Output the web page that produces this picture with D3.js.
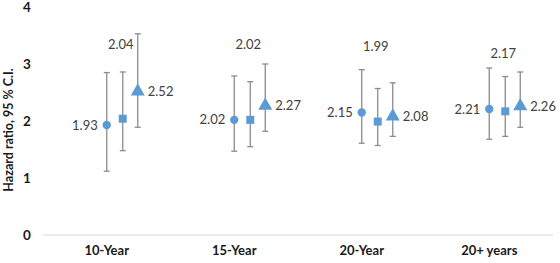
<!DOCTYPE html>
<html lang="en">
<head>
    <meta charset="UTF-8">
    <title>Hazard ratio</title>
    <script src="https://d3js.org/d3.v7.min.js"></script>
    <style>
        body { margin: 0; background: #fff; }
        text { font-family: Lato, "Open Sans", sans-serif; }
    </style>
</head>
<body>
    <div id="chart"></div>

    <script>
        // DATA
        const categories = ["10-Year", "15-Year", "20-Year", "20+ years"];
        const circleValues = [1.93, 2.02, 2.15, 2.21];
        const circleLow = [1.12, 1.47, 1.61, 1.68];
        const circleHigh = [2.85, 2.79, 2.90, 2.93];
        const squareValues = [2.04, 2.02, 1.99, 2.17];
        const squareLow = [1.48, 1.55, 1.57, 1.73];
        const squareHigh = [2.86, 2.69, 2.57, 2.78];
        const triangleValues = [2.52, 2.27, 2.08, 2.26];
        const triangleLow = [1.89, 1.82, 1.73, 1.89];
        const triangleHigh = [3.53, 3.00, 2.67, 2.86];
        const yTicks = [0, 1, 2, 3, 4];
        const yLabel = "Hazard ratio, 95 % C.I.";

        const width = 560, height = 263;
        const margin = { top: 7, right: 7, bottom: 28, left: 43 };
        const innerW = width - margin.left - margin.right;
        const innerH = height - margin.top - margin.bottom;

        const svg = d3.select("#chart").append("svg")
            .attr("width", width)
            .attr("height", height);

        const g = svg.append("g")
            .attr("transform", `translate(${margin.left},${margin.top})`);

        const x = d3.scaleBand().domain(categories).range([0, innerW]);
        const y = d3.scaleLinear().domain([0, 4]).range([innerH, 0]);

        const blue = "#5B9BD5";
        const barColor = "#8c8c8c";

        // baseline
        g.append("line")
            .attr("x1", 0).attr("x2", innerW)
            .attr("y1", y(0)).attr("y2", y(0))
            .attr("stroke", "#d9d9d9").attr("stroke-width", 1);

        // y tick labels
        g.selectAll(".ytick")
            .data(yTicks)
            .join("text")
            .attr("x", -16)
            .attr("y", d => y(d))
            .attr("dy", "0.4em")
            .attr("text-anchor", "middle")
            .attr("font-size", 13.5)
            .attr("font-weight", "bold")
            .attr("fill", "#1a1a1a")
            .text(d => d);

        // category labels
        g.selectAll(".xtick")
            .data(categories)
            .join("text")
            .attr("x", d => x(d) + x.bandwidth() / 2)
            .attr("y", innerH + 20)
            .attr("text-anchor", "middle")
            .attr("font-size", 13)
            .attr("font-weight", "bold")
            .attr("fill", "#1a1a1a")
            .text(d => d);

        // y axis title
        svg.append("text")
            .attr("transform", `translate(13,130) rotate(-90)`)
            .attr("text-anchor", "middle")
            .attr("font-size", 12.5)
            .attr("font-weight", "bold")
            .attr("fill", "#1a1a1a")
            .text(yLabel);

        const series = [
            { name: "circle", values: circleValues, low: circleLow, high: circleHigh, dx: 0 },
            { name: "square", values: squareValues, low: squareLow, high: squareHigh, dx: 16 },
            { name: "triangle", values: triangleValues, low: triangleLow, high: triangleHigh, dx: 31 }
        ];

        // hand-placed label heights for the square series (in data units)
        const squareLabelY = [3.34, 3.34, 3.30, 3.19];

        series.forEach(s => {
            const rows = categories.map((c, i) => ({
                c, i, v: s.values[i], lo: s.low[i], hi: s.high[i],
                cx: x(c) + x.bandwidth() / 2 + s.dx
            }));

            const eb = g.append("g");
            eb.selectAll(".stem").data(rows).join("line")
                .attr("x1", d => d.cx).attr("x2", d => d.cx)
                .attr("y1", d => y(d.lo)).attr("y2", d => y(d.hi))
                .attr("stroke", barColor).attr("stroke-width", 1.3);
            eb.selectAll(".capTop").data(rows).join("line")
                .attr("x1", d => d.cx - 3).attr("x2", d => d.cx + 3)
                .attr("y1", d => y(d.hi)).attr("y2", d => y(d.hi))
                .attr("stroke", barColor).attr("stroke-width", 1.3);
            eb.selectAll(".capBot").data(rows).join("line")
                .attr("x1", d => d.cx - 3).attr("x2", d => d.cx + 3)
                .attr("y1", d => y(d.lo)).attr("y2", d => y(d.lo))
                .attr("stroke", barColor).attr("stroke-width", 1.3);

            let symbol;
            if (s.name === "circle") symbol = d3.symbol(d3.symbolCircle, 55);
            else if (s.name === "square") symbol = d3.symbol(d3.symbolSquare, 64);
            else symbol = d3.symbol(d3.symbolTriangle, 85);

            g.append("g").selectAll("path").data(rows).join("path")
                .attr("transform", d => `translate(${d.cx},${y(d.v)})`)
                .attr("d", symbol)
                .attr("fill", blue);

            const labels = g.append("g").selectAll("text").data(rows).join("text")
                .attr("font-size", 13)
                .attr("fill", "#404040")
                .attr("dy", "0.35em")
                .text(d => d.v.toFixed(2));

            if (s.name === "circle") {
                labels.attr("x", d => d.cx - 9).attr("y", d => y(d.v)).attr("text-anchor", "end");
            } else if (s.name === "square") {
                labels.attr("x", d => d.cx - 2).attr("y", d => y(squareLabelY[d.i])).attr("text-anchor", "middle");
            } else {
                labels.attr("x", d => d.cx + 10).attr("y", d => y(d.v)).attr("text-anchor", "start");
            }
        });
    </script>
</body>
</html>
